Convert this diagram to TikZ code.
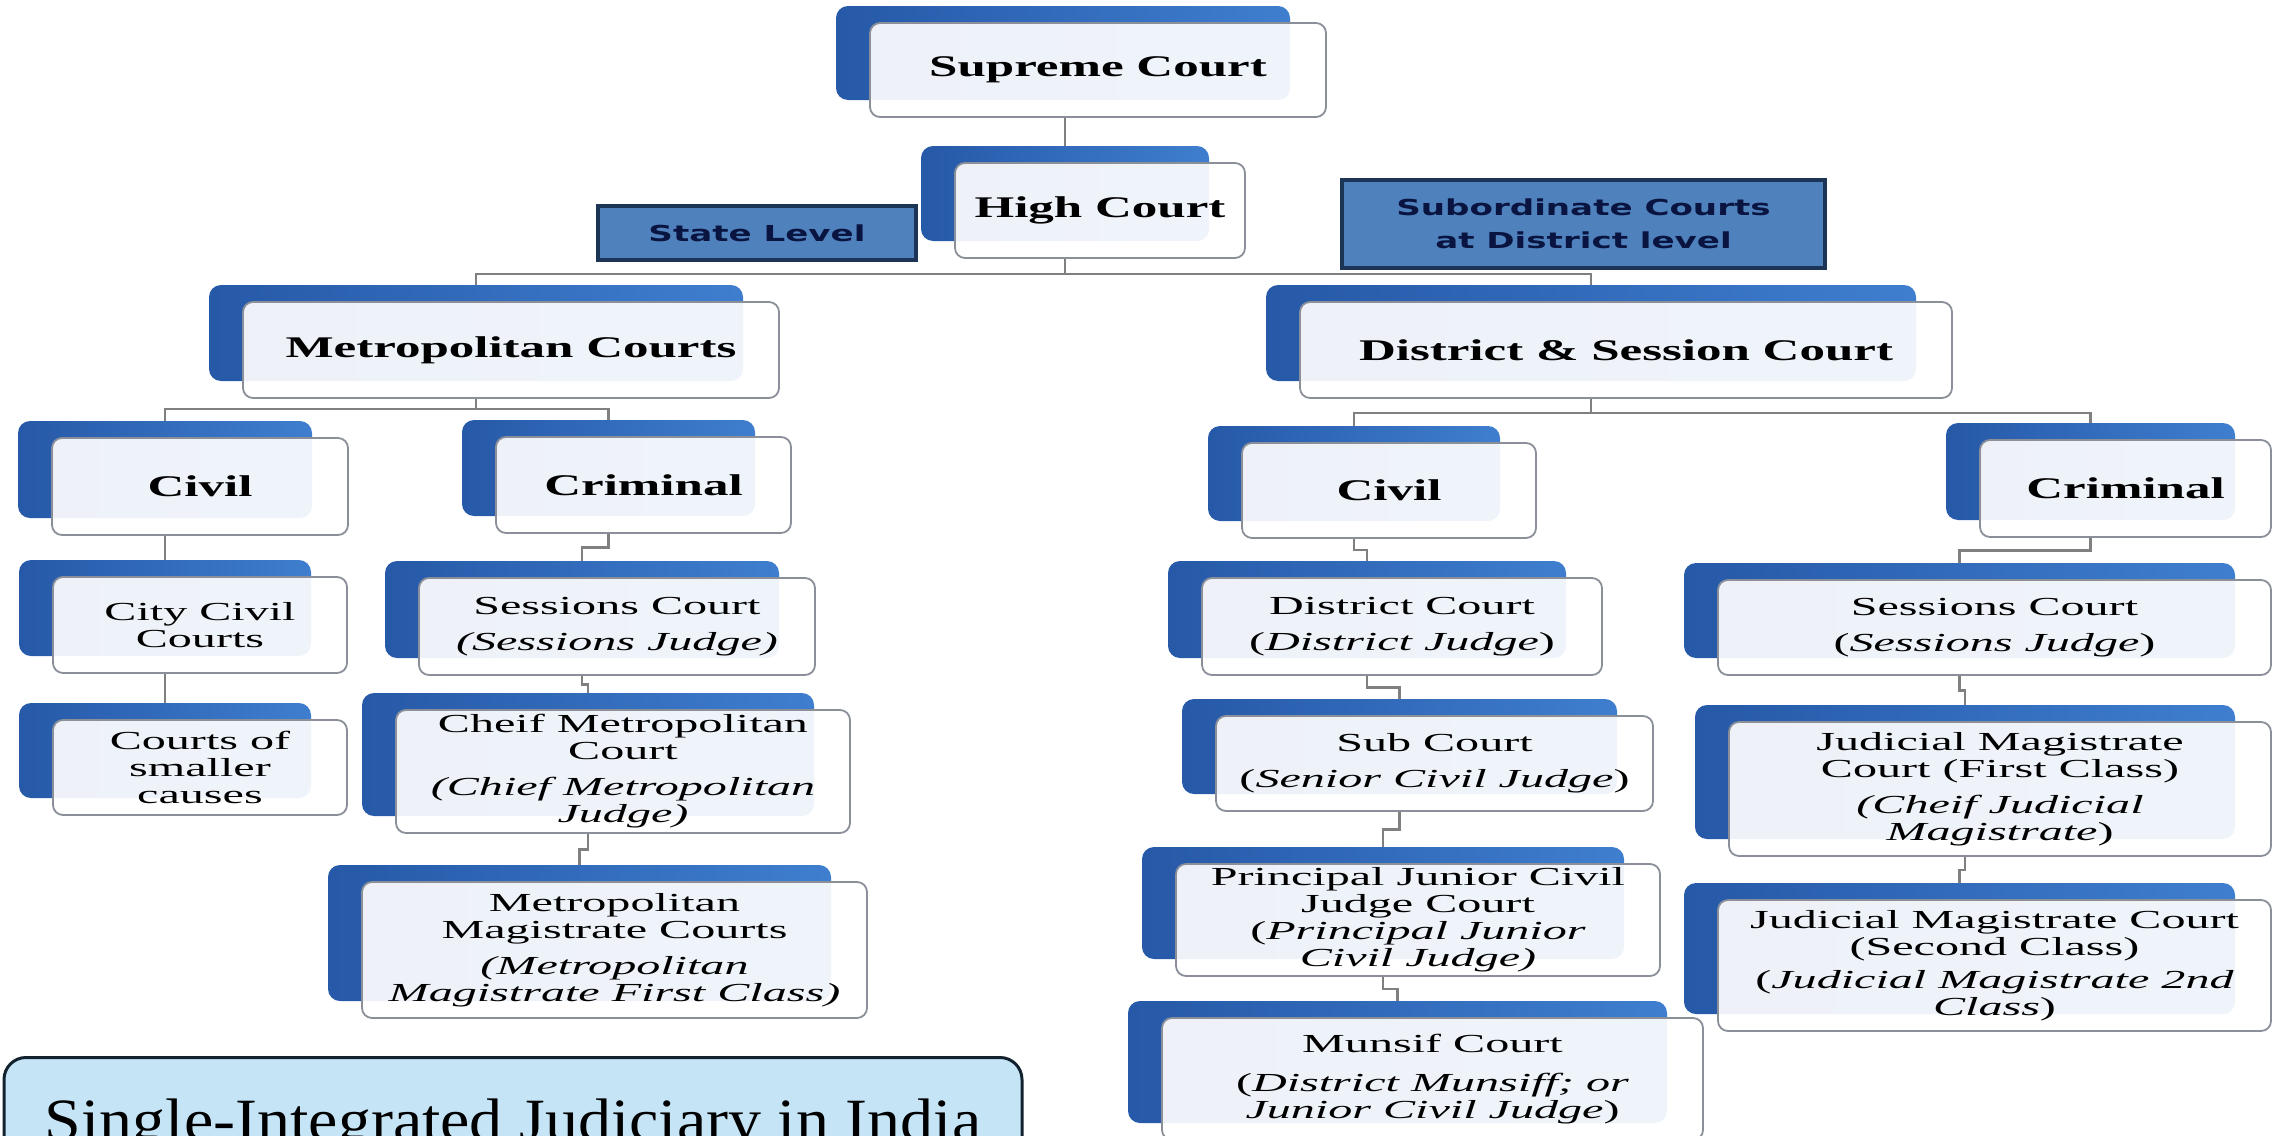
\documentclass[tikz,border=0pt]{standalone}
\usepackage{fontspec}
\setmainfont{Liberation Serif}
\newfontfamily\hdfont[FakeStretch=1.7]{Liberation Serif}
\newfontfamily\txtfont[FakeStretch=1.85]{Liberation Serif}
\newfontfamily\lblfont[FakeStretch=1.55]{DejaVu Sans}
\newfontfamily\ttlfont[FakeStretch=1.1]{Liberation Serif}
\usetikzlibrary{calc}
\definecolor{backdark}{HTML}{2659A8}
\definecolor{backlight}{HTML}{3F7ECE}
\definecolor{frameg}{HTML}{8A8F99}
\definecolor{conng}{HTML}{808080}
\definecolor{lblfill}{HTML}{4F81BD}
\definecolor{lbldraw}{HTML}{1C3557}
\definecolor{lbltext}{HTML}{0A1440}
\definecolor{ttlfill}{HTML}{C5E5F6}
\definecolor{ttldraw}{HTML}{13222F}
\tikzset{
  backbox/.style={rounded corners=12pt, left color=backdark, right color=backlight, inner sep=0pt, draw=none},
  frontbox/.style={rounded corners=10pt, draw=frameg, line width=1.8pt, fill=white, fill opacity=0.92, text opacity=1, inner sep=0pt, align=center},
  hd/.style={font=\hdfont\bfseries\fontsize{30}{33}\selectfont},
  tx/.style={font=\txtfont\fontsize{26}{27}\selectfont},
  conn/.style={draw=conng, line width=2.5pt},
  lbl/.style={fill=lblfill, draw=lbldraw, line width=4pt, text=lbltext, font=\lblfont\bfseries\fontsize{22}{33}\selectfont, align=center, inner sep=0pt},
  titlebox/.style={fill=ttlfill, draw=ttldraw, line width=3pt, rounded corners=22pt},
  titletext/.style={font=\ttlfont\fontsize{60}{66}\selectfont, text=black, inner sep=0pt},
}
% name, x1, y1, x2, y2, style, text
\newcommand{\courtbox}[7]{%
  \node[backbox, minimum width={#4-#2-2}, minimum height={#5-#3}] (#1b) at ({(#2+#4)/2-35},{(#3+#5)/2-17}) {};
  \node[frontbox, #6, minimum width={#4-#2}, minimum height={#5-#3}] (#1) at ({(#2+#4)/2},{(#3+#5)/2}) {#7};
}
\newcommand{\elbowconn}[2]{%
  \coordinate (#1out) at (#1b.north |- #1.south);
  \draw[conn] (#1out) |- ($(#1out)!0.5!(#2b.north)$) -| (#2b.north);
}
\begin{document}
\begin{tikzpicture}[x=1pt,y=-1pt]
\useasboundingbox (0,0) rectangle (2280,1135);
\fill[white] (0,0) rectangle (2280,1135);
\clip (0,0) rectangle (2280,1135);

% labels
\node[lbl, minimum width=318, minimum height=54] (state) at (757,233) {State Level};
\node[lbl, minimum width=483, minimum height=88] (subord) at (1583.5,224) {Subordinate Courts\\at District level};

% court boxes
\courtbox{sup}{870}{23}{1326}{117}{hd}{Supreme Court}
\courtbox{high}{955}{163}{1245}{258}{hd}{High Court}
\courtbox{metro}{243}{302}{779}{398}{hd}{Metropolitan Courts}
\courtbox{dsc}{1300}{302}{1952}{398}{hd}{District \& Session Court}
\courtbox{mciv}{52}{438}{348}{535}{hd}{Civil}
\courtbox{mcrim}{496}{437}{791}{533}{hd}{Criminal}
\courtbox{dciv}{1242}{443}{1536}{538}{hd}{Civil}
\courtbox{dcrim}{1980}{440}{2271}{537}{hd}{Criminal}
\courtbox{ccc}{53}{577}{347}{673}{tx}{City Civil\\Courts}
\courtbox{csc}{53}{720}{347}{815}{tx}{Courts of\\smaller\\causes}
\courtbox{msess}{419}{578}{815}{675}{tx}{Sessions Court\\[9pt]\textit{(Sessions Judge)}}
\courtbox{chief}{396}{710}{850}{833}{tx}{Cheif Metropolitan\\Court\\[9pt]\textit{(Chief Metropolitan}\\\textit{Judge)}}
\courtbox{mmag}{362}{882}{867}{1018}{tx}{Metropolitan\\Magistrate Courts\\[9pt]\textit{(Metropolitan}\\\textit{Magistrate First Class)}}
\courtbox{dcourt}{1202}{578}{1602}{675}{tx}{District Court\\[9pt](\textit{District Judge})}
\courtbox{sub}{1216}{716}{1653}{811}{tx}{Sub Court\\[9pt](\textit{Senior Civil Judge})}
\courtbox{pj}{1176}{864}{1660}{976}{tx}{Principal Junior Civil\\Judge Court\\(\textit{Principal Junior}\\\textit{Civil Judge)}}
\courtbox{mun}{1162}{1018}{1703}{1140}{tx}{Munsif Court\\[12pt](\textit{District Munsiff; or}\\\textit{Junior Civil Judge})}
\courtbox{rsess}{1718}{580}{2271}{675}{tx}{Sessions Court\\[9pt](\textit{Sessions Judge})}
\courtbox{jmone}{1729}{722}{2271}{856}{tx}{Judicial Magistrate\\Court (First Class)\\[9pt]\textit{(Cheif Judicial}\\\textit{Magistrate})}
\courtbox{jmtwo}{1718}{900}{2271}{1031}{tx}{Judicial Magistrate Court\\(Second Class)\\[6pt](\textit{Judicial Magistrate 2nd}\\\textit{Class})}

% title
\node[titlebox, minimum width=1018, minimum height=160, anchor=north] (title) at (513,1056) {};
\node[titletext, anchor=base] (titletxt) at (513,1140) {Single-Integrated Judiciary in India};

% connectors
\draw[conn] (sup.south -| highb.north) -- (highb.north);
\draw[conn] (highb.north |- high.south) -- ++(0,15) coordinate (busA);
\draw[conn] (metrob.north) |- (busA) -| (dscb.north);

\draw[conn] (metrob.north |- metro.south) -- ++(0,10) coordinate (mbus);
\draw[conn] (mcivb.north) |- (mbus) -| (mcrimb.north);
\draw[conn] (dscb.north |- dsc.south) -- ++(0,14) coordinate (dbus);
\draw[conn] (dcivb.north) |- (dbus) -| (dcrimb.north);

\elbowconn{mciv}{ccc}
\elbowconn{ccc}{csc}
\elbowconn{mcrim}{msess}
\elbowconn{msess}{chief}
\elbowconn{chief}{mmag}
\elbowconn{dciv}{dcourt}
\elbowconn{dcourt}{sub}
\elbowconn{sub}{pj}
\elbowconn{pj}{mun}
\elbowconn{dcrim}{rsess}
\elbowconn{rsess}{jmone}
\elbowconn{jmone}{jmtwo}
\end{tikzpicture}
\end{document}
